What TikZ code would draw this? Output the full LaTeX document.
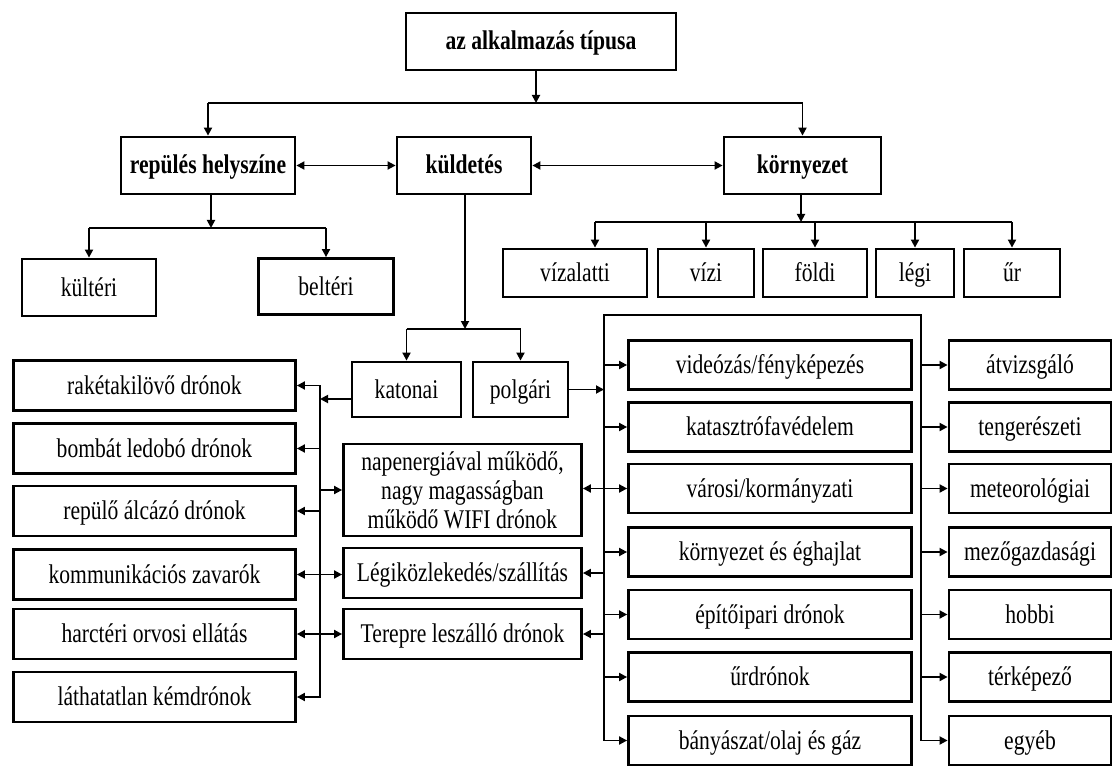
\documentclass[tikz,border=0pt]{standalone}
\usepackage{fontspec}
\setmainfont{Liberation Serif}[FakeStretch=0.8]
\usepackage{tikz}
\usetikzlibrary{arrows.meta, positioning}
\tikzset{
  frame/.style={rectangle, draw=black, line width=2.8pt, align=center,
    inner sep=0pt, font=\fontsize{27}{29}\selectfont},
  box/.style={frame, text height=21pt, text depth=4pt},
  headbox/.style={box, font=\fontsize{27}{29}\selectfont\bfseries},
  leftbox/.style={box, minimum width=282pt, minimum height=50pt},
  midbox/.style={box, minimum width=238pt, minimum height=50pt},
  usebox/.style={box, minimum width=283pt, minimum height=49pt},
  typebox/.style={box, minimum width=162pt, minimum height=49pt},
  arrow/.style={-{Triangle[length=8pt,width=8pt]}, line width=1.8pt},
  dblarrow/.style={{Triangle[length=8pt,width=8pt]}-{Triangle[length=8pt,width=8pt]}, line width=1.8pt},
  line/.style={line width=1.8pt},
  thinline/.style={line width=1.3pt}
}
\begin{document}
\begin{tikzpicture}[x=1pt, y=-1pt]
  \useasboundingbox (0,0) rectangle (1115,767);

  % upper levels
  \node[headbox, minimum width=270pt, minimum height=57pt] (tipus) at (541,41.5) {az alkalmazás típusa};
  \node[headbox, minimum width=174pt, minimum height=57pt] (helyszin) at (208,165.5) {repülés helyszíne};
  \node[headbox, minimum width=134pt, minimum height=57pt] (kuldetes) at (464,165.5) {küldetés};
  \node[headbox, minimum width=157pt, minimum height=57pt] (kornyezet) at (802.5,165.5) {környezet};

  \coordinate (tsplit) at (536,103);
  \draw[arrow] (tipus.south -| tsplit) -- (tsplit);
  \draw[line] (helyszin.north |- tsplit) -- (kornyezet.north |- tsplit);
  \draw[arrow] (helyszin.north |- tsplit) -- (helyszin.north);
  \draw[arrow] (kornyezet.north |- tsplit) -- (kornyezet.north);
  \draw[dblarrow] (helyszin) -- (kuldetes);
  \draw[dblarrow] (kuldetes) -- (kornyezet);

  % flight location
  \node[box, minimum width=134pt, minimum height=57pt] (kulteri) at (89,287.5) {kültéri};
  \node[box, minimum width=135pt, minimum height=56pt] (belteri) at (326,286.5) {beltéri};
  \coordinate (hsplit) at (211,228);
  \draw[arrow] (helyszin.south -| hsplit) -- (hsplit);
  \draw[line] (kulteri.north |- hsplit) -- (belteri.north |- hsplit);
  \draw[arrow] (kulteri.north |- hsplit) -- (kulteri.north);
  \draw[arrow] (belteri.north |- hsplit) -- (belteri.north);

  % environment
  \foreach \name/\txt/\cx/\w in {vizalatti/vízalatti/575/144, vizi/vízi/706/96,
      foldi/földi/815/104, legi/légi/915/78, ur/űr/1012/96}
    \node[box, minimum width=\w pt, minimum height=48pt] (\name) at (\cx,273) {\txt};
  \coordinate (ksplit) at (801,222);
  \coordinate (vzin) at ([xshift=20pt]vizalatti.north);
  \draw[arrow] (kornyezet.south -| ksplit) -- (ksplit);
  \draw[line] (vzin |- ksplit) -- (ur.north |- ksplit);
  \draw[arrow] (vzin |- ksplit) -- (vzin);
  \foreach \name in {vizi,foldi,legi,ur}
    \draw[arrow] (\name.north |- ksplit) -- (\name.north);

  % mission
  \node[box, minimum width=109pt, minimum height=55pt] (katonai) at (406.5,389.5) {katonai};
  \node[box, minimum width=95pt, minimum height=55pt] (polgari) at (520.5,389.5) {polgári};
  \coordinate (msplit) at (465,329);
  \draw[arrow] (kuldetes.south -| msplit) -- (msplit);
  \draw[line] (katonai.north |- msplit) -- (polgari.north |- msplit);
  \draw[arrow] (katonai.north |- msplit) -- (katonai.north);
  \draw[arrow] (polgari.north |- msplit) -- (polgari.north);

  % military
  \foreach \name/\txt/\cy in {raketa/rakétakilövő drónok/385.5, bomba/bombát ledobó drónok/448.5,
      alcazo/repülő álcázó drónok/511, kommunikacio/kommunikációs zavarók/574.5,
      orvosi/harctéri orvosi ellátás/634, kem/láthatatlan kémdrónok/697}
    \node[leftbox] (\name) at (154.5,\cy) {\txt};
  \node[frame, minimum width=238pt, minimum height=92pt] (napenergia) at (462.5,490) {napenergiával működő,\\nagy magasságban\\működő WIFI drónok};
  \node[midbox] (legikozl) at (462.5,573) {Légiközlekedés/szállítás};
  \node[midbox] (terepre) at (462.5,634) {Terepre leszálló drónok};

  \coordinate (lbus) at (320,399);
  \coordinate (katout) at ([yshift=-9.5pt]katonai.west);
  \draw[arrow] (katout) -- (lbus |- katout);
  \draw[dblarrow] (raketa.east) -- (lbus |- raketa.east) -- (lbus |- kem.east) -- (kem.east);
  \draw[arrow] (lbus |- bomba.east) -- (bomba.east);
  \draw[arrow] (lbus |- alcazo.east) -- (alcazo.east);
  \draw[arrow] (lbus |- napenergia.west) -- (napenergia.west);
  \draw[dblarrow] (kommunikacio.east) -- (kommunikacio.east -| legikozl.west);
  \draw[dblarrow] (orvosi.east) -- (orvosi.east -| terepre.west);

  % civil
  \foreach \name/\txt/\cy in {video/{videózás/fényképezés}/365, katasztrofa/katasztrófavédelem/427,
      varosi/{városi/kormányzati}/488.5, kornyeghajlat/környezet és éghajlat/552,
      epitoipari/építőipari drónok/614.5, urdron/űrdrónok/677, banya/{bányászat/olaj és gáz}/740.5}
    \node[usebox] (\name) at (770,\cy) {\txt};
  \foreach \name/\txt/\cy in {atvizsgalo/átvizsgáló/365, tengereszeti/tengerészeti/427,
      meteorologiai/meteorológiai/488.5, mezogazdasagi/mezőgazdasági/552,
      hobbi/hobbi/614.5, terkepezo/térképező/677, egyeb/egyéb/740.5}
    \node[typebox] (\name) at (1030,\cy) {\txt};

  \coordinate (rbus) at (604,315);
  \coordinate (rbus2) at (921,315);
  \draw[arrow] (polgari.east) -- (polgari.east -| rbus);
  \draw[thinline] (rbus |- banya.west) -- (rbus) -- (rbus2) -- (rbus2 |- egyeb.west);
  \foreach \name in {video,katasztrofa,kornyeghajlat,epitoipari,urdron,banya}
    \draw[arrow] (rbus |- \name.west) -- (\name.west);
  \draw[dblarrow] (napenergia.east |- varosi.west) -- (varosi.west);
  \draw[arrow] (rbus |- legikozl.east) -- (legikozl.east);
  \draw[arrow] (rbus |- terepre.east) -- (terepre.east);
  \foreach \name in {atvizsgalo,tengereszeti,meteorologiai,mezogazdasagi,hobbi,terkepezo,egyeb}
    \draw[arrow] (rbus2 |- \name.west) -- (\name.west);
\end{tikzpicture}
\end{document}
